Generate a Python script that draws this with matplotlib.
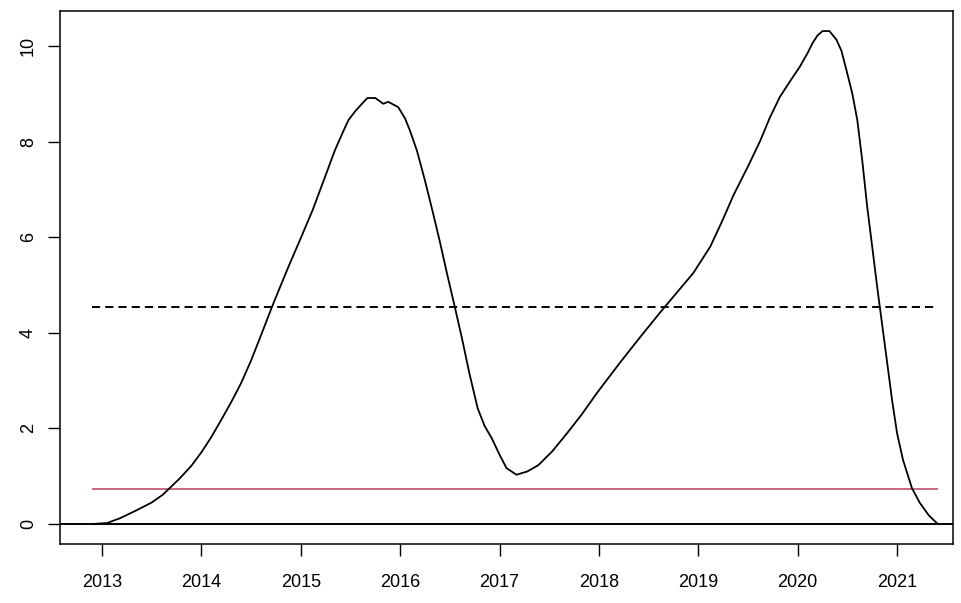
#!/usr/bin/env python3
"""
plot.py - smoothed series with mean and threshold reference lines (R base-graphics look).
"""

import matplotlib
matplotlib.use("Agg")
import matplotlib.pyplot as plt

# curve (decimal year, value)
years = [2012.90, 2013.05, 2013.18, 2013.35, 2013.50, 2013.61, 2013.78, 2013.90,
         2014.00, 2014.10, 2014.20, 2014.30, 2014.40, 2014.50, 2014.60, 2014.71,
         2014.80, 2014.89, 2015.00, 2015.12, 2015.26, 2015.34, 2015.42, 2015.48,
         2015.55, 2015.62, 2015.67, 2015.75, 2015.83, 2015.88, 2015.98, 2016.05,
         2016.10, 2016.17, 2016.25, 2016.33, 2016.40, 2016.47, 2016.55, 2016.62,
         2016.70, 2016.78, 2016.85, 2016.92, 2017.00, 2017.07, 2017.17, 2017.28,
         2017.39, 2017.53, 2017.68, 2017.83, 2017.98, 2018.21, 2018.40, 2018.61,
         2018.80, 2018.95, 2019.12, 2019.25, 2019.35, 2019.50, 2019.62, 2019.72,
         2019.82, 2019.92, 2020.02, 2020.10, 2020.15, 2020.20, 2020.25, 2020.32,
         2020.39, 2020.44, 2020.49, 2020.55, 2020.60, 2020.65, 2020.70, 2020.75,
         2020.80, 2020.88, 2020.95, 2021.00, 2021.06, 2021.15, 2021.23, 2021.32,
         2021.40]
values = [0.00, 0.02, 0.12, 0.29, 0.45, 0.61, 0.95, 1.22,
          1.50, 1.82, 2.18, 2.55, 2.95, 3.42, 3.95, 4.54,
          5.00, 5.45, 5.98, 6.57, 7.35, 7.80, 8.18, 8.45,
          8.64, 8.80, 8.91, 8.91, 8.79, 8.83, 8.72, 8.48,
          8.22, 7.80, 7.18, 6.51, 5.90, 5.25, 4.54, 3.90,
          3.12, 2.42, 2.05, 1.80, 1.45, 1.17, 1.03, 1.10,
          1.23, 1.52, 1.90, 2.30, 2.74, 3.37, 3.87, 4.41,
          4.88, 5.25, 5.80, 6.38, 6.86, 7.48, 8.00, 8.50,
          8.93, 9.25, 9.56, 9.85, 10.06, 10.22, 10.31, 10.31,
          10.13, 9.90, 9.50, 9.00, 8.45, 7.60, 6.63, 5.80,
          4.96, 3.70, 2.59, 1.90, 1.34, 0.75, 0.44, 0.18,
          0.02]

mean_level = 4.53
threshold = 0.73
line_span = (2012.90, 2021.41)

xticks = list(range(2013, 2022))
yticks = [0, 2, 4, 6, 8, 10]

FONT = "Liberation Sans"
RED = "#c0506a"


def main():
    fig = plt.figure(figsize=(9.61, 6.03), dpi=100)
    ax = fig.add_axes([60 / 961, 1 - 544 / 603, (953 - 60) / 961, (544 - 11) / 603])

    ax.plot(years, values, color="black", linewidth=1.3, zorder=3)
    ax.axhline(0, color="black", linewidth=1.4, zorder=4)
    ax.hlines(mean_level, *line_span, colors="black", linestyles=(0, (4.2, 2.6)), linewidth=1.4)
    ax.hlines(threshold, *line_span, colors=RED, linewidth=1.2)

    ax.set_xlim(2012.577, 2021.563)
    ax.set_ylim(-0.418, 10.73)

    ax.set_xticks(xticks)
    ax.set_xticklabels([str(t) for t in xticks], fontfamily=FONT, fontsize=13)
    ax.set_yticks(yticks)
    ax.set_yticklabels([str(t) for t in yticks], fontfamily=FONT, fontsize=13,
                       rotation=90, va="center")
    ax.tick_params(axis="both", direction="out", length=8.5, width=1.0)
    ax.tick_params(axis="x", pad=13)
    ax.tick_params(axis="y", pad=8)

    for s in ax.spines.values():
        s.set_linewidth(1.1)

    fig.savefig("out.png", dpi=100)
    plt.close(fig)


if __name__ == "__main__":
    main()
